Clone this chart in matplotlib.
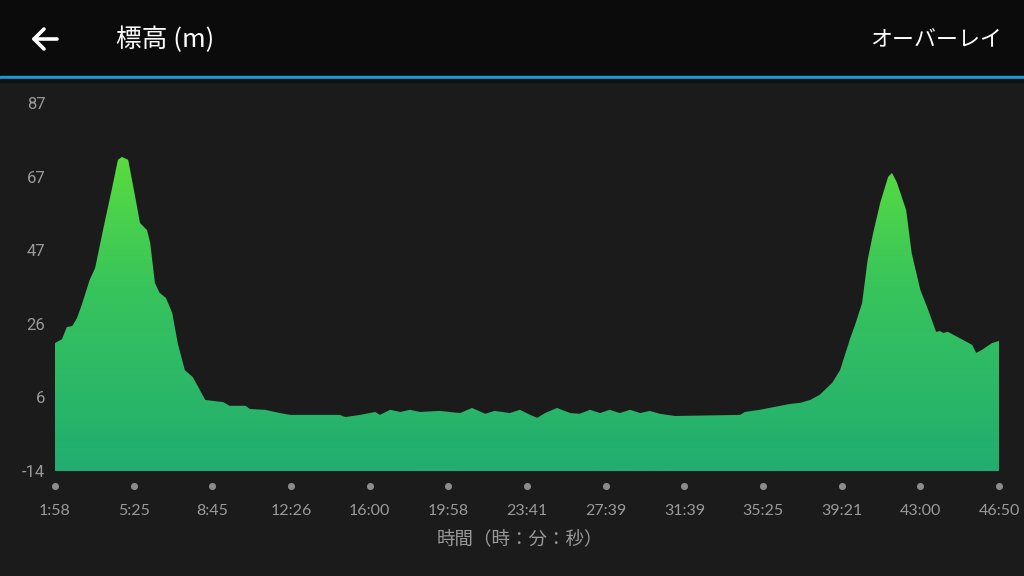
import numpy as np
import matplotlib.pyplot as plt
import matplotlib.transforms as mtransforms
from matplotlib.colors import LinearSegmentedColormap
from matplotlib.patches import Rectangle
from matplotlib.lines import Line2D

# x tick labels (time, h:m:s) at equally spaced positions 0..12
time_labels = ['1:58', '5:25', '8:45', '12:26', '16:00', '19:58', '23:41',
               '27:39', '31:39', '35:25', '39:21', '43:00', '46:50']
y_labels = ['-14', '6', '26', '47', '67', '87']
y_min, y_max = -14, 87

# elevation profile (position in tick units, elevation in m)
dist = [0.00, 0.09, 0.15, 0.22, 0.28, 0.34, 0.44, 0.51, 0.61, 0.72,
        0.80, 0.85, 0.93, 1.02, 1.08, 1.17, 1.21, 1.27, 1.33, 1.41,
        1.49, 1.56, 1.65, 1.75, 1.82, 1.91, 2.14, 2.22, 2.42, 2.48,
        2.67, 2.86, 2.99, 3.62, 3.69, 3.88, 4.07, 4.13, 4.26, 4.39,
        4.51, 4.64, 4.89, 5.15, 5.30, 5.47, 5.59, 5.78, 5.91, 6.04,
        6.13, 6.23, 6.38, 6.55, 6.67, 6.80, 6.93, 7.05, 7.18, 7.31,
        7.44, 7.56, 7.69, 7.88, 8.71, 8.77, 8.96, 9.15, 9.34, 9.47,
        9.60, 9.72, 9.88, 9.98, 10.11, 10.17, 10.26, 10.33, 10.40, 10.49,
        10.59, 10.64, 10.70, 10.82, 10.89, 11.00, 11.10, 11.20, 11.25, 11.29,
        11.35, 11.54, 11.66, 11.71, 11.78, 11.91, 12.00]
elev = [21.1, 22.2, 25.5, 25.8, 28.0, 31.6, 38.4, 41.7, 52.1, 63.1,
        71.4, 72.2, 71.4, 61.2, 54.1, 52.1, 48.6, 37.6, 34.9, 33.5,
        29.4, 21.1, 13.7, 11.8, 9.1, 5.5, 4.9, 3.9, 3.9, 3.0,
        2.8, 1.9, 1.4, 1.4, 0.8, 1.4, 2.2, 1.4, 2.8, 2.2,
        2.8, 2.2, 2.5, 1.9, 3.3, 1.7, 2.5, 1.9, 2.8, 1.4,
        0.6, 1.9, 3.3, 1.9, 1.7, 2.8, 1.9, 2.8, 1.9, 2.8,
        1.9, 2.5, 1.7, 1.1, 1.4, 2.2, 2.8, 3.6, 4.4, 4.7,
        5.5, 6.9, 10.2, 13.7, 22.5, 26.1, 32.1, 43.9, 51.3, 59.6,
        66.7, 67.8, 65.3, 57.6, 45.8, 35.7, 30.2, 24.2, 24.4, 23.9,
        24.2, 22.0, 20.6, 18.4, 19.2, 21.1, 21.7]

W, H = 1024, 576
def fx(px): return px / W
def fy(py): return 1 - py / H

fig = plt.figure(figsize=(10.24, 5.76), dpi=100, facecolor='#1b1b1b')

# header bar
fig.patches.append(Rectangle((0, fy(76)), 1, 76 / H, transform=fig.transFigure,
                             color='#0b0b0b', zorder=0))
fig.patches.append(Rectangle((0, fy(79)), 1, 3 / H, transform=fig.transFigure,
                             color='#1b98d5', zorder=1))
fig.patches.append(Rectangle((0, fy(82)), 1, 3 / H, transform=fig.transFigure,
                             color='#111111', zorder=1))

# back arrow
ac = dict(color='white', lw=2.6, solid_capstyle='round', transform=fig.transFigure)
fig.lines.append(Line2D([fx(34), fx(57)], [fy(39), fy(39)], **ac))
fig.lines.append(Line2D([fx(44), fx(34), fx(44)], [fy(29), fy(39), fy(49)], **ac))

fig.text(fx(116), fy(40), '標高 (m)', ha='left', va='center', color='white',
         fontsize=18.5, family=['Noto Sans CJK JP', 'DejaVu Sans'])
fig.text(fx(1002), fy(40), 'オーバーレイ', ha='right', va='center', color='white',
         fontsize=15.8, family=['Noto Sans CJK JP', 'DejaVu Sans'])

ax = fig.add_axes([fx(55), fy(471), fx(999) - fx(55), (471 - 103) / H])
ax.set_facecolor('#1b1b1b')
ax.set_xlim(0, len(time_labels) - 1)
ax.set_ylim(y_min, y_max)
for s in ax.spines.values():
    s.set_visible(False)

# gradient area fill
poly = ax.fill_between(dist, elev, y_min, color='none', lw=0)
cmap = LinearSegmentedColormap.from_list('g', ['#21ad70', '#38c45c', '#66e632'])
grad = np.linspace(0, 1, 256).reshape(-1, 1)
im = ax.imshow(grad, extent=[0, len(time_labels) - 1, y_min, y_max], origin='lower',
               aspect='auto', cmap=cmap, interpolation='bilinear')
im.set_clip_path(poly.get_paths()[0], transform=ax.transData)

ax.set_yticks(np.linspace(y_min, y_max, len(y_labels)))
ax.set_yticklabels(y_labels)
ax.set_xticks(range(len(time_labels)))
ax.set_xticklabels(time_labels)
ax.tick_params(axis='both', length=0, colors='#9a9a9a')
ax.tick_params(axis='y', pad=7, labelsize=12)
ax.tick_params(axis='x', pad=24, labelsize=11.5)
for lab in ax.get_xticklabels():
    lab.set_family('Lato')
for lab in ax.get_yticklabels():
    lab.set_family('Roboto')

# dots under each x tick
tr = mtransforms.blended_transform_factory(ax.transData, ax.transAxes)
ax.scatter(range(len(time_labels)), [-15 / 368] * len(time_labels), s=26,
           color='#8c8c8c', transform=tr, clip_on=False, lw=0)

fig.text(fx(520), fy(539), '時間（時：分：秒）', ha='center', va='center',
         color='#9a9a9a', fontsize=13.3, family=['Noto Sans CJK JP', 'DejaVu Sans'])

fig.savefig('out.png', dpi=100, facecolor=fig.get_facecolor())
